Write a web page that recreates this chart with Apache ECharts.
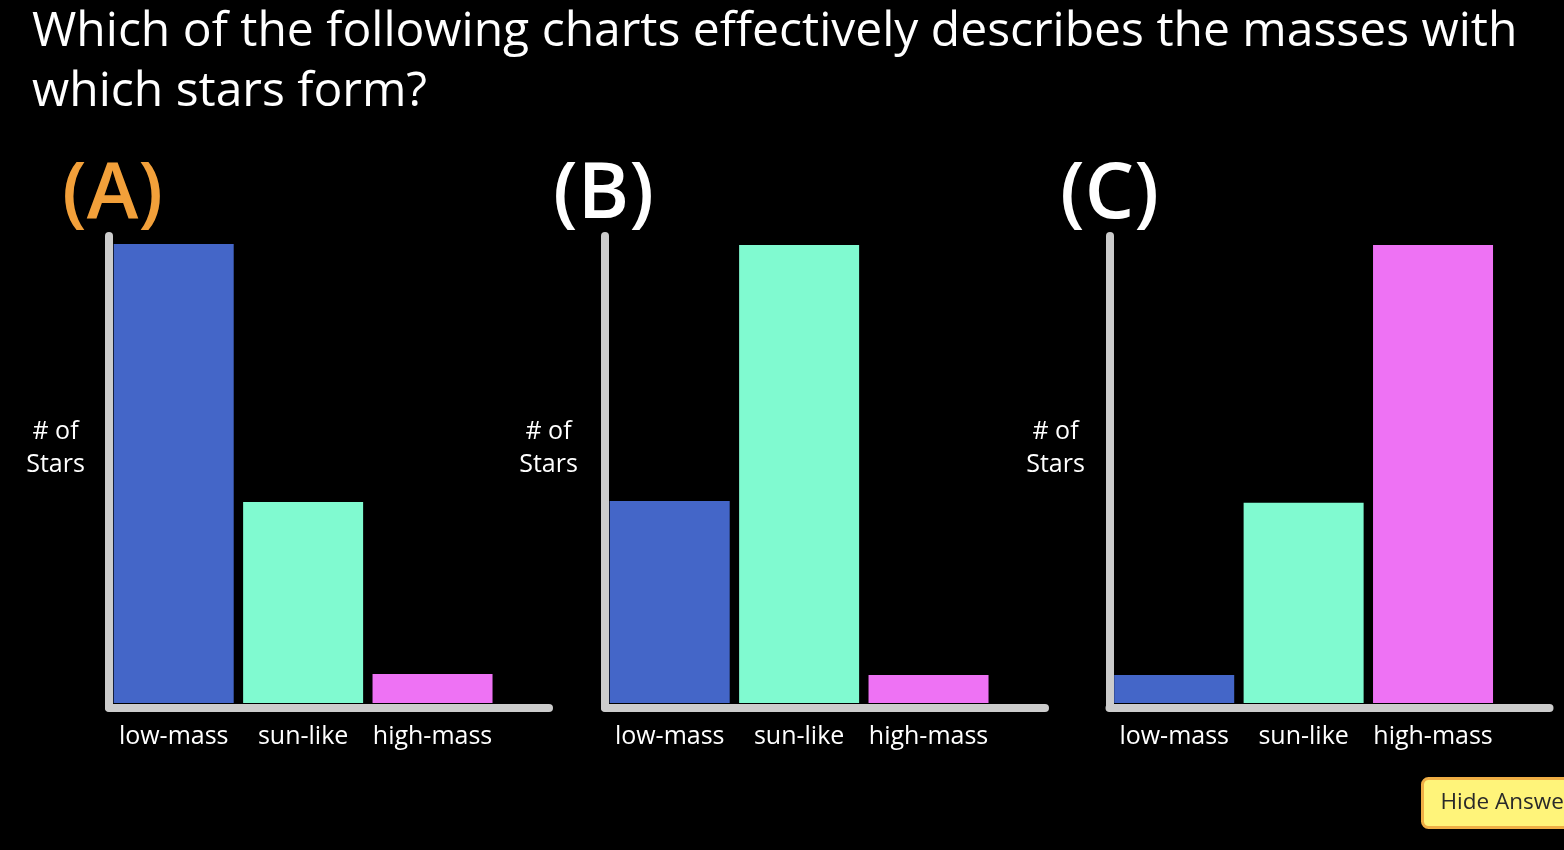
<!DOCTYPE html>
<html>
<head>
<meta charset="utf-8">
<script src="https://cdn.jsdelivr.net/npm/echarts@6/dist/echarts.min.js"></script>
<style>
html,body{margin:0;padding:0;background:#000;}
#chart{width:1564px;height:850px;}
</style>
</head>
<body>
<div id="chart"></div>
<script>
// ---- data ----
var categories = ['low-mass', 'sun-like', 'high-mass'];
var valuesA = [100, 43.8, 6.3];
var valuesB = [44.0, 99.8, 6.1];
var valuesC = [6.1, 43.6, 99.8];
var panelLabels = ['(A)', '(B)', '(C)'];
var yAxisName = '# of\nStars';
var titleText = 'Which of the following charts effectively describes the masses with\nwhich stars form?';
var barColors = ['#4466C8', '#80FAD0', '#EE72F4'];

var FONT = 'Open Sans';
var panels = [
  {left: 109, values: valuesA, labelColor: '#F2A03A', labelLeft: 57, nameX: 50.5},
  {left: 605, values: valuesB, labelColor: '#FFFFFF', labelLeft: 548, nameX: 543.5},
  {left: 1109.5, values: valuesC, labelColor: '#FFFFFF', labelLeft: 1055, nameX: 1050.5}
];

var grids = [], xAxes = [], yAxes = [], series = [];
var titles = [{
  text: titleText, left: 27, top: -3,
  textStyle: {color: '#FFFFFF', fontFamily: FONT, fontSize: 48, fontWeight: 'normal', lineHeight: 60}
}];
var axisLineStyle = {color: '#CCCCCC', width: 8, cap: 'round'};

panels.forEach(function (p, i) {
  grids.push({left: p.left, top: 236, width: 440, height: 471.5, containLabel: false});
  xAxes.push({
    type: 'value', gridIndex: i, min: 0, max: 3.4,
    axisLine: {show: true, onZero: false, lineStyle: axisLineStyle},
    axisTick: {show: false}, splitLine: {show: false},
    axisLabel: {
      show: true, margin: 17,
      customValues: categories.map(function (c, k) { return k + 0.5; }),
      formatter: function (v) { return categories[Math.floor(v)] || ''; },
      color: '#FFFFFF', fontFamily: FONT, fontSize: 25
    }
  });
  yAxes.push({
    type: 'value', gridIndex: i, min: -0.98, max: 101.74,
    axisLine: {show: true, onZero: false, lineStyle: axisLineStyle},
    axisTick: {show: false}, splitLine: {show: false}, axisLabel: {show: false}
  });
  series.push({
    type: 'bar', xAxisIndex: i, yAxisIndex: i, barWidth: 120,
    data: p.values.map(function (v, k) {
      return {value: [k + 0.5, v], itemStyle: {color: barColors[k]}};
    }),
    silent: true
  });
  titles.push({
    text: panelLabels[i], left: p.labelLeft, top: 152,
    textStyle: {color: p.labelColor, fontFamily: FONT, fontSize: 78, fontWeight: 600}
  });
  titles.push({
    text: yAxisName, left: p.nameX, top: 410, textAlign: 'center',
    textStyle: {color: '#FFFFFF', fontFamily: FONT, fontSize: 25, fontWeight: 'normal', lineHeight: 33, align: 'center'}
  });
});

var chart = echarts.init(document.getElementById('chart'));
chart.setOption({
  backgroundColor: '#000000',
  animation: false,
  title: titles,
  grid: grids,
  xAxis: xAxes,
  yAxis: yAxes,
  series: series,
  graphic: [{
    type: 'group', left: 1421, top: 777,
    children: [
      {type: 'rect', shape: {x: 0, y: 0, width: 170, height: 49, r: 6},
       style: {fill: '#FFF47A', stroke: '#EFAE45', lineWidth: 3}},
      {type: 'text', style: {x: 18, y: 24.5, text: 'Hide Answer', fill: '#2A2A2A',
        font: '22.5px "Open Sans"', verticalAlign: 'middle'}}
    ]
  }]
});
</script>
</body>
</html>
